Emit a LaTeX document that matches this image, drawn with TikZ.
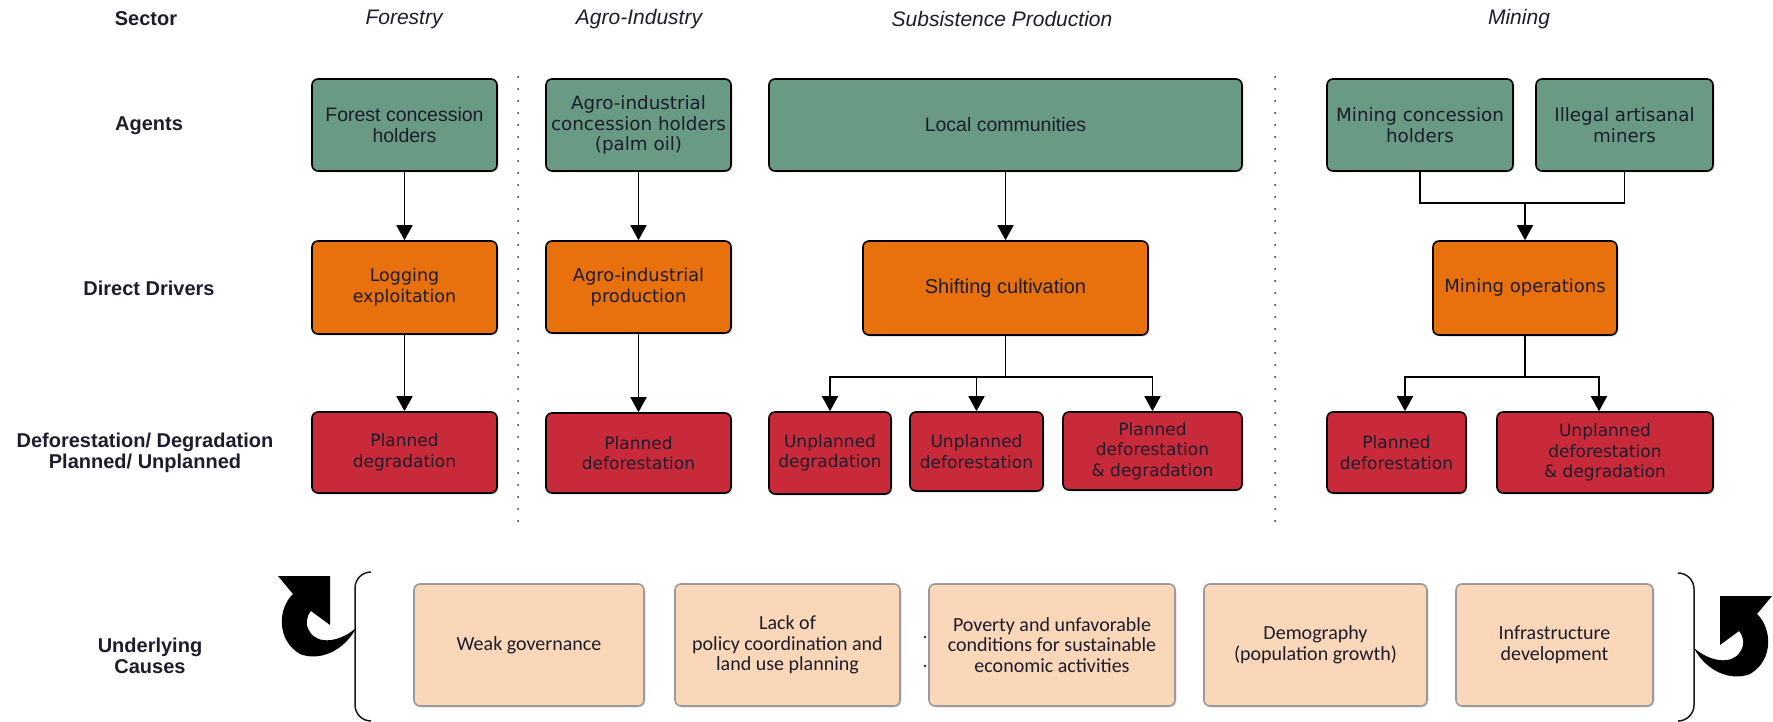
\documentclass[tikz,border=0pt]{standalone}
\usepackage{fontspec}
\setmainfont{Liberation Sans}
\newfontfamily\dejafont{DejaVu Sans}
\newfontfamily\carlfont{Carlito}
\usetikzlibrary{arrows.meta,shadows}
\definecolor{agentgreen}{HTML}{699A83}
\definecolor{driverorange}{HTML}{E8710E}
\definecolor{outred}{HTML}{C92A3A}
\definecolor{causebeige}{HTML}{FAD7B9}
\definecolor{textdark}{HTML}{1C1C2C}
\definecolor{beigeborder}{HTML}{9A9A9A}
\begin{document}
\begin{tikzpicture}[x=1pt,y=-1pt,
  box/.style={draw=black, line width=1.6pt, rounded corners=6pt, inner sep=2pt, align=center, text=textdark,
    drop shadow={shadow xshift=1.5pt,shadow yshift=-1.5pt,opacity=0.25}},
  agent/.style={box, fill=agentgreen},
  driver/.style={box, fill=driverorange},
  outcome/.style={box, fill=outred, font=\dejafont\fontsize{17}{20.5}\selectfont},
  cause/.style={box, draw=beigeborder, fill=causebeige, minimum height=122pt, font=\carlfont\fontsize{20}{20.5}\selectfont},
  rowlabel/.style={align=center, text=textdark, font=\bfseries\fontsize{20}{20.5}\selectfont},
  header/.style={text=textdark, font=\itshape\fontsize{21}{24}\selectfont},
  conn/.style={line width=1.8pt, draw=black},
  arr/.style={conn, -{Triangle[width=16pt,length=15pt]}},
  sep/.style={line width=2pt, line cap=round, dash pattern=on 0pt off 12pt, draw=black!85},
  fLib/.style={font=\fontsize{19.5}{21}\selectfont},
  fDeja/.style={font=\dejafont\fontsize{18.3}{20.5}\selectfont}
]
\useasboundingbox (0,0) rectangle (1773,722);

% headers
\node[rowlabel] (hsector) at (146,19) {Sector};
\node[header] (hforest) at (404,19) {Forestry};
\node[header] (hagro) at (639,19) {Agro-Industry};
\node[header] (hsub) at (1002,19) {Subsistence Production};
\node[header] (hmin) at (1519,19) {Mining};

% row labels
\node[rowlabel] (lagents) at (149,126) {Agents};
\node[rowlabel] (ldrivers) at (149,288) {Direct Drivers};
\node[rowlabel] (ldef) at (145,453) {Deforestation/ Degradation\\Planned/ Unplanned};
\node[rowlabel] (lcauses) at (150,656) {Underlying\\Causes};

% separators
\draw[sep] (518,77) -- (518,530);
\draw[sep] (1275,77) -- (1275,530);

% agents
\node[agent, fLib, minimum width=185pt, minimum height=92pt] (fa) at (404.5,125) {Forest concession\\holders};
\node[agent, fDeja, minimum width=185pt, minimum height=92pt] (aa) at (638.5,125) {Agro-industrial\\concession holders\\(palm oil)};
\node[agent, fLib, minimum width=473pt, minimum height=92pt] (lc) at (1005.5,125) {Local communities};
\node[agent, fDeja, minimum width=186pt, minimum height=92pt] (mc) at (1420,125) {Mining concession\\holders};
\node[agent, fDeja, minimum width=177pt, minimum height=92pt] (im) at (1624.5,125) {Illegal artisanal\\miners};

% drivers
\node[driver, font=\dejafont\fontsize{17.5}{21}\selectfont, minimum width=185pt, minimum height=93pt] (le) at (404.5,287.5) {Logging\\exploitation};
\node[driver, font=\dejafont\fontsize{17.8}{21}\selectfont, minimum width=185pt, minimum height=92pt] (ap) at (638.5,287) {Agro-industrial\\production};
\node[driver, font=\fontsize{20}{22}\selectfont, minimum width=285pt, minimum height=94pt] (sc) at (1005.5,288) {Shifting cultivation};
\node[driver, font=\dejafont\fontsize{18}{21}\selectfont, minimum width=184pt, minimum height=94pt] (mo) at (1525,288) {Mining operations};

% outcomes
\node[outcome, minimum width=185pt, minimum height=81pt] (pdg) at (404.5,452.5) {Planned\\degradation};
\node[outcome, minimum width=185pt, minimum height=80pt] (pdf) at (638.5,453) {Planned\\deforestation};
\node[outcome, minimum width=122pt, minimum height=82pt] (udg) at (830,453) {Unplanned\\degradation};
\node[outcome, minimum width=133pt, minimum height=79pt] (udf) at (976.5,451.5) {Unplanned\\deforestation};
\node[outcome, minimum width=179pt, minimum height=78pt] (pdd) at (1152.5,451) {Planned\\deforestation\\\& degradation};
\node[outcome, minimum width=139pt, minimum height=81pt] (mpd) at (1396.5,452.5) {Planned\\deforestation};
\node[outcome, minimum width=216pt, minimum height=81pt] (umd) at (1605,452.5) {Unplanned\\deforestation\\\& degradation};

% causes
\node[cause, minimum width=230pt] (wg) at (529,645) {Weak governance};
\node[cause, minimum width=225pt] (lp) at (787.5,645) {Lack of\\policy coordination and\\land use planning};
\node[cause, minimum width=246pt] (pv) at (1052,645) {Poverty and unfavorable\\conditions for sustainable\\economic activities};
\node[cause, minimum width=223pt] (dm) at (1315.5,645) {Demography\\(population growth)};
\node[cause, minimum width=197pt] (inf) at (1554.5,645) {Infrastructure\\development};
\fill[black!85] (925,637) circle (1.4pt) (925,666) circle (1.4pt);

% connectors
\draw[arr] (fa) -- (le);
\draw[arr] (le) -- (pdg);
\draw[arr] (aa) -- (ap);
\draw[arr] (ap) -- (pdf);
\draw[arr] (lc) -- (sc);
\coordinate (sb) at (1005.5,377);
\draw[conn] (sc.south) -- (sb);
\draw[arr] (sb) -| (udg.north);
\draw[arr] (sb) -| (udf.north);
\draw[arr] (sb) -| (pdd.north);
\coordinate (mj) at (1525,203);
\draw[conn] (mc.south) |- (mj) -| (im.south);
\draw[arr] (mj) -- (mo.north);
\coordinate (mb) at (1525,377);
\draw[conn] (mo.south) -- (mb);
\draw[arr] (mb) -| ([xshift=8.5pt]mpd.north);
\draw[arr] (mb) -| ([xshift=-6pt]umd.north);

% brackets
\draw[line width=1.5pt, rounded corners=16pt, black!90] (371,572) -- (355,572) -- (355,721) -- (371,721);
\draw[line width=1.5pt, rounded corners=16pt, black!90] (1678,573) -- (1694,573) -- (1694,721) -- (1678,721);

% curved arrows
\fill[black] (330,576) -- (278,576) -- (293,594)
  .. controls (278,608) and (276,640) .. (300,654)
  .. controls (320,662) and (345,650) .. (356,628)
  .. controls (340,642) and (318,645) .. (310,632)
  .. controls (305,625) and (306,617) .. (311,611)
  -- (330,625) -- cycle;
\fill[black] (1720,596) -- (1772,596) -- (1757,614)
  .. controls (1772,628) and (1774,660) .. (1750,674)
  .. controls (1730,682) and (1705,670) .. (1694,648)
  .. controls (1710,662) and (1732,665) .. (1740,652)
  .. controls (1745,645) and (1744,637) .. (1739,631)
  -- (1720,645) -- cycle;
\end{tikzpicture}
\end{document}
